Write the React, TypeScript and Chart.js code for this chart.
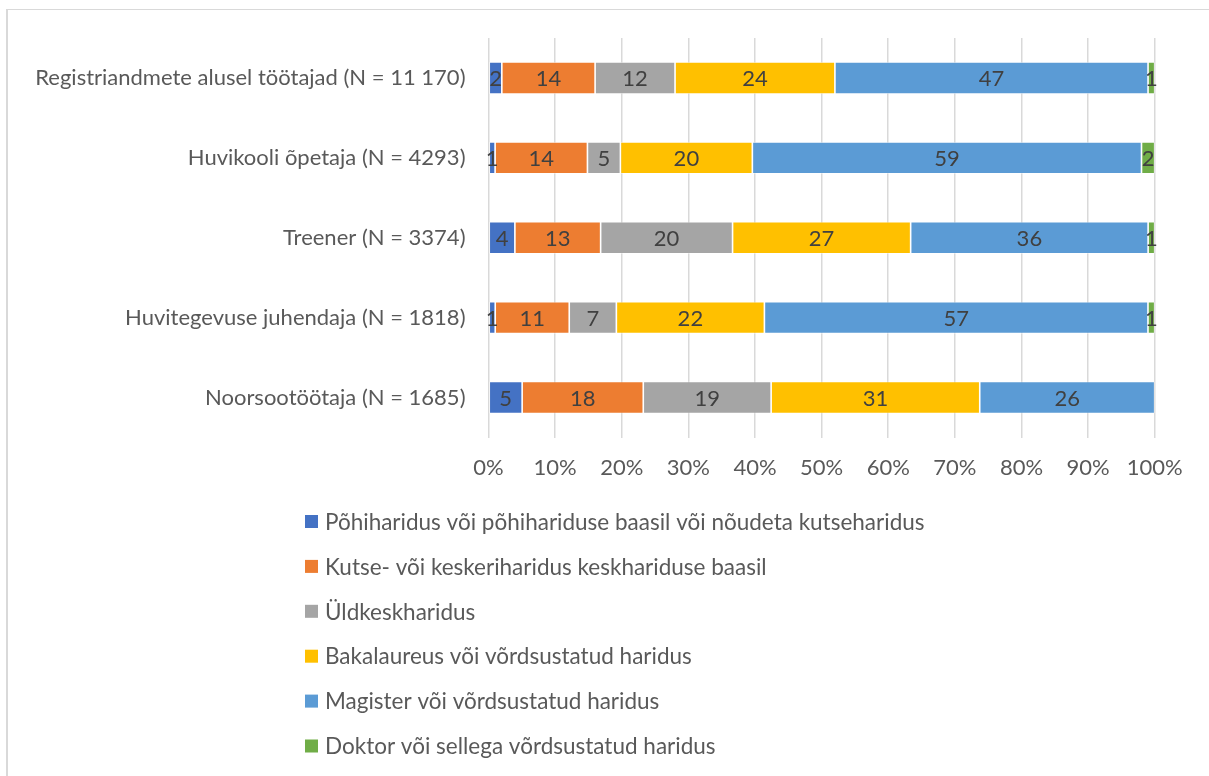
import React, { useEffect, useRef } from "react";
import { Chart, registerables } from "chart.js";

Chart.register(...registerables);

const categories = [
  "Registriandmete alusel töötajad (N = 11 170)",
  "Huvikooli õpetaja (N = 4293)",
  "Treener (N = 3374)",
  "Huvitegevuse juhendaja (N = 1818)",
  "Noorsootöötaja (N = 1685)",
];

const seriesNames = [
  "Põhiharidus või põhihariduse baasil või nõudeta kutseharidus",
  "Kutse- või keskeriharidus keskhariduse baasil",
  "Üldkeskharidus",
  "Bakalaureus või võrdsustatud haridus",
  "Magister või võrdsustatud haridus",
  "Doktor või sellega võrdsustatud haridus",
];

const pohiharidus = [2, 1, 4, 1, 5];
const kutseharidus = [14, 14, 13, 11, 18];
const yldkeskharidus = [12, 5, 20, 7, 19];
const bakalaureus = [24, 20, 27, 22, 31];
const magister = [47, 59, 36, 57, 26];
const doktor = [1, 2, 1, 1, 0];

const seriesColors = ["#4472C4", "#ED7D31", "#A5A5A5", "#FFC000", "#5B9BD5", "#70AD47"];

const xTickValues = [0, 10, 20, 30, 40, 50, 60, 70, 80, 90, 100];

const FONT = "Lato, 'DejaVu Sans', sans-serif";
const FONT_SIZE = 22;
const LEGEND_FONT_SIZE = 22.5;
const TEXT_COLOR = "#595959";

export default function App() {
  const canvasRef = useRef<HTMLCanvasElement | null>(null);

  useEffect(() => {
    const canvas = canvasRef.current;
    if (!canvas) return;
    const series = [pohiharidus, kutseharidus, yldkeskharidus, bakalaureus, magister, doktor];
    const totals = categories.map((_, i) => series.reduce((s, arr) => s + arr[i], 0));

    const datasets = series.map((arr, si) => ({
      label: seriesNames[si],
      data: arr.map((v, i) => (v / totals[i]) * 100),
      raw: arr,
      backgroundColor: seriesColors[si],
      borderColor: "rgba(255,255,255,0.7)",
      borderWidth: 0.8,
      borderSkipped: false,
      barPercentage: 0.4,
      categoryPercentage: 1,
    }));

    const dataLabels = {
      id: "dataLabels",
      afterDatasetsDraw(chart: any) {
        const ctx = chart.ctx;
        ctx.save();
        ctx.font = `${FONT_SIZE}px ${FONT}`;
        ctx.fillStyle = "#404040";
        ctx.textAlign = "center";
        ctx.textBaseline = "middle";
        chart.data.datasets.forEach((ds: any, di: number) => {
          const meta = chart.getDatasetMeta(di);
          meta.data.forEach((bar: any, i: number) => {
            const v = ds.raw[i];
            if (!v) return;
            const { x, y, base } = bar.getProps(["x", "y", "base"], true);
            ctx.fillText(String(v), (x + base) / 2, y + 1);
          });
        });
        ctx.restore();
      },
    };

    const customLegend = {
      id: "customLegend",
      afterDraw(chart: any) {
        const ctx = chart.ctx;
        ctx.save();
        ctx.font = `${LEGEND_FONT_SIZE}px ${FONT}`;
        ctx.textAlign = "left";
        ctx.textBaseline = "middle";
        const startY = chart.chartArea.bottom + 84;
        chart.data.datasets.forEach((ds: any, i: number) => {
          const cy = startY + i * 44.9;
          ctx.fillStyle = ds.backgroundColor;
          ctx.fillRect(305, cy - 6.5, 13, 13);
          ctx.fillStyle = TEXT_COLOR;
          ctx.fillText(ds.label, 325, cy + 1);
        });
        ctx.restore();
      },
    };

    const chart = new Chart(canvas, {
      type: "bar",
      data: { labels: categories, datasets: datasets as any },
      options: {
        indexAxis: "y",
        animation: false,
        responsive: false,
        events: [],
        layout: { padding: { top: 38, right: 54.3, bottom: 288.5, left: 0 } },
        plugins: { legend: { display: false }, tooltip: { enabled: false } },
        scales: {
          x: {
            stacked: true,
            min: 0,
            max: 100,
            afterBuildTicks(scale: any) {
              scale.ticks = xTickValues.map((v) => ({ value: v }));
            },
            afterFit(scale: any) {
              scale.height = 50;
            },
            grid: { color: "#d9d9d9", lineWidth: 1.5, drawTicks: false },
            border: { display: false },
            ticks: {
              padding: 17,
              color: TEXT_COLOR,
              font: { family: FONT, size: FONT_SIZE },
              callback: (v: any) => `${v}%`,
            },
          },
          y: {
            stacked: true,
            afterFit(scale: any) {
              scale.width = 488.5;
            },
            grid: { display: false, drawTicks: false },
            border: { display: false },
            ticks: {
              padding: 23,
              color: TEXT_COLOR,
              font: { family: FONT, size: FONT_SIZE },
            },
          },
        },
      },
      plugins: [dataLabels, customLegend],
    });
    return () => chart.destroy();
  }, []);

  return (
    <div style={{ position: "absolute", left: 0, top: 0, width: 1209, height: 776, background: "#fff", overflow: "hidden" }}>
      <div
        style={{
          position: "absolute",
          left: 6,
          top: 9,
          width: 1300,
          height: 900,
          borderLeft: "2px solid #d9d9d9",
          borderTop: "1px solid #d9d9d9",
        }}
      />
      <canvas ref={canvasRef} width={1209} height={776} style={{ position: "absolute", left: 0, top: 0 }} />
    </div>
  );
}
